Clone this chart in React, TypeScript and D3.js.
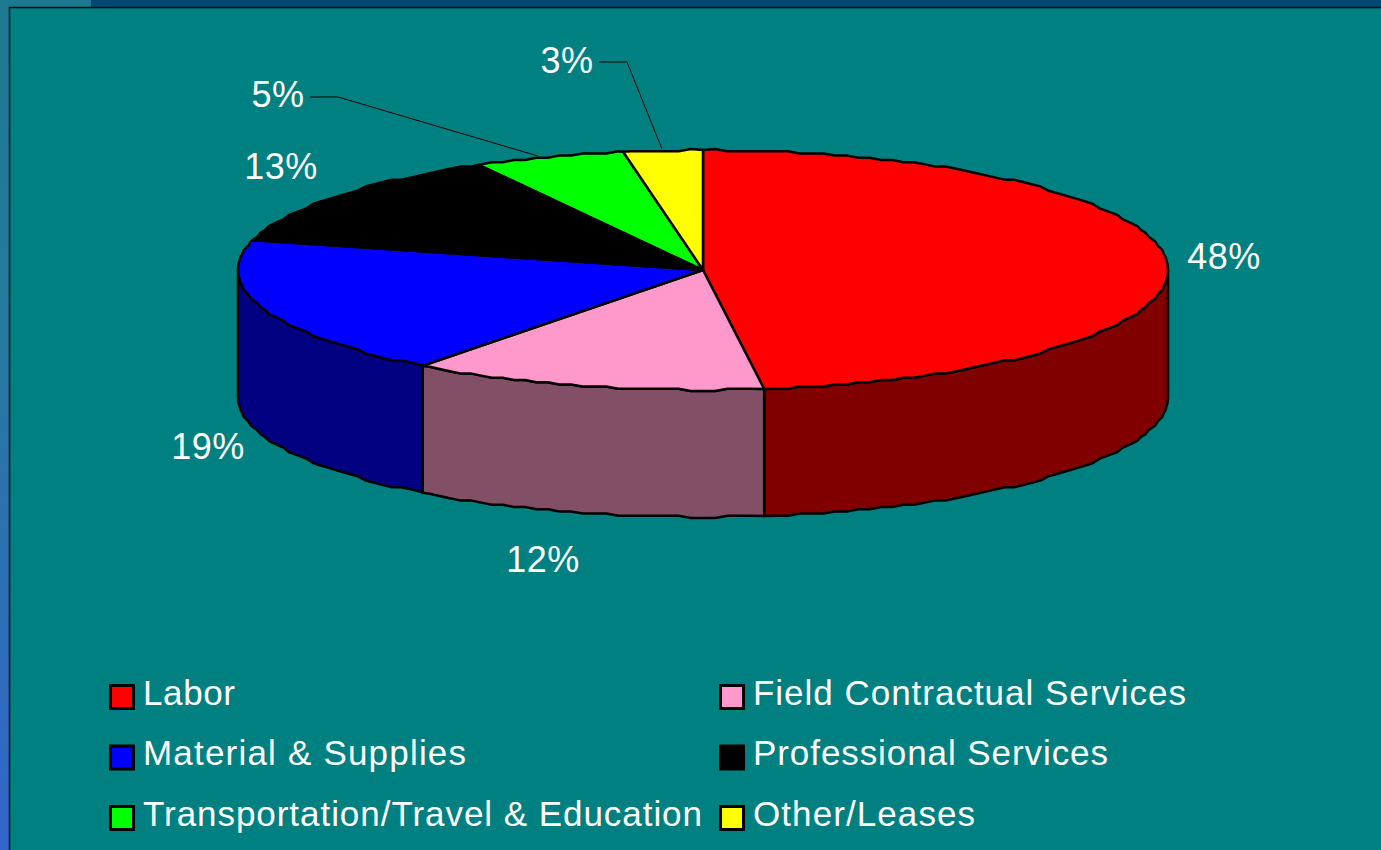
import React from "react";
import * as d3 from "d3";

const categories = ["Labor", "Field Contractual Services", "Material & Supplies", "Professional Services", "Transportation/Travel & Education", "Other/Leases"];
const shares = [47.9, 12.4, 18.7, 13, 5.25, 2.75];
const topColors = ["#ff0000", "#ff99cc", "#0000ff", "#000000", "#00ff00", "#ffff00"];
const sideColors = ["#800000", "#824f66", "#000080", "#000000", "#008000", "#808000"];
const labelPos: [number, number][] = [[1224, 269], [543, 572], [208, 459], [281, 179], [278, 107], [567, 73]];
const legendCols = [110.5, 720.5];
const legendRows = [693, 753.5, 814];
const legendWidths = [92, 433, 323, 355, 559, 222];

const W = 1381, H = 850, CX = 703, CY = 270, RX = 465, RY = 120, DEPTH = 127;
const STEP = (1.5 * Math.PI) / 180, GRID = 2.2;
const x = d3.scaleLinear().domain([-1, 1]).range([CX - RX, CX + RX]);
const y = d3.scaleLinear().domain([-1, 1]).range([CY - RY, CY + RY]);
const line = d3.line<[number, number]>().x(d => d[0]).y(d => d[1]);
// The outline of the original is a coarse, stepped polygon: snap it to a pixel grid.
const snap = (v: number) => CY + Math.round((v - CY) / GRID) * GRID;
const pts = (a0: number, a1: number, dy = 0): [number, number][] => {
  const forward = a1 >= a0;
  const lo = Math.min(a0, a1), hi = Math.max(a0, a1);
  const inner = d3.range(Math.ceil(lo / STEP + 0.2), hi / STEP - 0.2).map(k => k * STEP);
  const angles = [lo, ...inner, hi];
  const out = angles.map((a, i) => {
    const edge = i === 0 || i === angles.length - 1;
    const py = y(-Math.cos(a));
    return [x(Math.sin(a)), (edge ? py : snap(py)) + dy] as [number, number];
  });
  return forward ? out : out.reverse();
};
const arcs = d3.pie<number>().sort(null).startAngle(0).endAngle(2 * Math.PI)(shares);

export default function App() {
  return (
    <svg width={W} height={H} style={{ position: "absolute", left: 0, top: 0, fontFamily: "Liberation Sans, Arial, sans-serif" }}>
      <defs>
        <linearGradient id="strip" x1="0" y1="0" x2="0" y2="1">
          <stop offset="0" stopColor="#1b7a90" />
          <stop offset="0.35" stopColor="#247a9c" />
          <stop offset="1" stopColor="#3366cc" />
        </linearGradient>
      </defs>
      <rect width={W} height={H} fill="#004872" />
      <rect x={0} y={0} width={91} height={7} fill="#1b7a90" />
      <rect x={0} y={0} width={9} height={H} fill="url(#strip)" />
      <rect x={9.5} y={7.5} width={W} height={H} fill="#008080" stroke="#000c14" strokeWidth={1.5} />
      {arcs.map((a, i) => {
        const s = Math.max(a.startAngle, Math.PI / 2);
        const e = Math.min(a.endAngle, 1.5 * Math.PI);
        if (s >= e) return null;
        const d = line([...pts(s, e), ...pts(e, s, DEPTH)]) + "Z";
        return <path key={i} d={d} fill={sideColors[i]} stroke="#000" strokeWidth={2.5} strokeLinejoin="round" />;
      })}
      {arcs.map((a, i) => (
        <path key={i} d={line([[CX, CY], ...pts(a.startAngle, a.endAngle)])! + "Z"} fill={topColors[i]} stroke="#000" strokeWidth={2.5} strokeLinejoin="round" />
      ))}
      <polyline points="310,97 338,97 538,156" fill="none" stroke="#000" strokeWidth={1} />
      <polyline points="599,62 627,62 662,149" fill="none" stroke="#000" strokeWidth={1} />
      {shares.map((v, i) => (
        <text key={i} x={labelPos[i][0]} y={labelPos[i][1]} textAnchor="middle" fontSize={36} letterSpacing={0.5} fill="#fff">{Math.round(v)}%</text>
      ))}
      {categories.map((c, i) => {
        const lx = legendCols[i % 2], ly = legendRows[Math.floor(i / 2)];
        return (
          <g key={c}>
            <rect x={lx} y={ly - 7.5} width={23} height={23} fill={topColors[i]} stroke="#000" strokeWidth={3} />
            <text x={lx + 32.5} y={ly + 11.5} fontSize={35} textLength={legendWidths[i]} lengthAdjust="spacing" fill="#fff">{c}</text>
          </g>
        );
      })}
    </svg>
  );
}
